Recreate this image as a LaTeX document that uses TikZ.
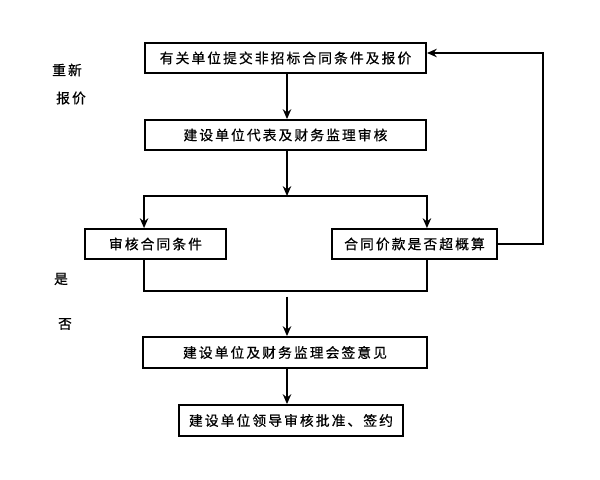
\documentclass[tikz,border=0pt]{standalone}
\usepackage{fontspec}
\newfontfamily\cjk[LetterSpace=15,FakeBold=0.6]{Noto Sans CJK SC}
\usetikzlibrary{arrows.meta}

\tikzset{
	stepbox/.style={draw, line width=1.3pt, inner sep=0pt, minimum height=0.75cm,
			font=\cjk\fontsize{9.8}{11}\selectfont},
	flow/.style={line width=1.4pt, -{Stealth[length=7pt,width=6pt]}},
	plain/.style={line width=1.4pt},
	side/.style={font=\cjk\fontsize{9.8}{11}\selectfont}
}

\begin{document}
\begin{tikzpicture}[x=0.025cm, y=-0.025cm]
	\useasboundingbox (0,0) rectangle (600,480);

	\node[stepbox, minimum width=7.025cm] (submit) at (285.5,58) {有关单位提交非招标合同条件及报价};
	\node[stepbox, minimum width=7.025cm] (audit) at (285.5,135) {建设单位代表及财务监理审核};
	\node[stepbox, minimum width=3.525cm] (terms) at (155.5,244) {审核合同条件};
	\node[stepbox, minimum width=4.125cm] (price) at (414.5,244) {合同价款是否超概算};
	\node[stepbox, minimum width=7.1cm, minimum height=0.775cm] (sign) at (285,352.5) {建设单位及财务监理会签意见};
	\node[stepbox, minimum width=5.6cm, minimum height=0.775cm] (approve) at (291,420.5) {建设单位领导审核批准、签约};

	% side labels
	\node[side] (redo) at (67,70) {重新};
	\node[side] (quote) at (71,98) {报价};
	\node[side] (yes) at (61,279) {是};
	\node[side] (no) at (65,324) {否};

	\coordinate (fork) at (287,196);
	\coordinate (join) at (287,291);
	\coordinate (loop) at (543,53);

	\draw[flow] (fork |- submit.south) -- (fork |- audit.north);
	\draw[flow] (fork |- audit.south) -- (fork);
	\draw[flow] (fork) -| (submit.west |- terms.north);
	\draw[flow] (fork) -| (submit.east |- price.north);
	\draw[plain] (submit.west |- terms.south) |- (join) -| (submit.east |- price.south);
	\draw[flow] ([yshift=-4pt]join) -- (join |- sign.north);
	\draw[flow] (join |- sign.south) -- (join |- approve.north);

	% back to the start
	\draw[flow] (price.east) -| (loop) -- (loop -| submit.east);
\end{tikzpicture}
\end{document}
